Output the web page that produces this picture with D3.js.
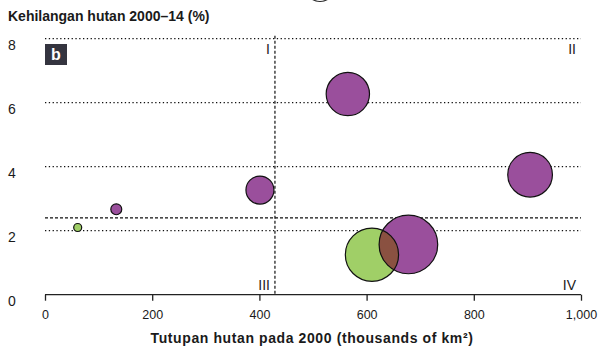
<!DOCTYPE html>
<html>
<head>
<meta charset="utf-8">
<script src="https://cdn.jsdelivr.net/npm/d3@7"></script>
<style>
  body { margin: 0; background: #fff; }
  text { font-family: "Liberation Sans", Arial, sans-serif; fill: #1a1a1a; }
</style>
</head>
<body>
<svg id="chart" width="599" height="350"></svg>
<script>
// tutupan hutan 2000 (thousands of km2), kehilangan 2000-14 (%), bubble size, group
const cover = [61, 133, 401, 565, 905, 610, 678];
const loss = [2.1, 2.67, 3.27, 6.27, 3.75, 1.25, 1.57];
const sizes = [1.6, 3.0, 19.6, 47, 50, 71, 86];
const groups = ["g", "p", "p", "p", "p", "g", "p"];

const xTicks = [0, 200, 400, 600, 800, 1000];
const yTicks = [0, 2, 4, 6, 8];
const gridY = [2, 4, 6, 8];
const meanCover = 429;
const meanLoss = 2.4;
const quadrants = ["I", "II", "III", "IV"];

const svg = d3.select("#chart");

const x = d3.scaleLinear().domain([0, 1000]).range([45, 581]);
const y = d3.scaleLinear().domain([0, 8]).range([294.7, 38.7]);
const r = d3.scaleSqrt().domain([0, 100]).range([0, 31.6]);
const colors = { g: "#a0cf67", p: "#9a4f9c" };

// cut-off bubble of the panel above
svg.append("circle")
    .attr("cx", 320).attr("cy", -13).attr("r", 14.5)
    .attr("fill", "none").attr("stroke", "#222").attr("stroke-width", 1.2);

svg.append("text")
    .attr("x", 8).attr("y", 21)
    .attr("font-size", "14px")
    .attr("font-weight", "bold")
    .text("Kehilangan hutan 2000–14 (%)");

// grid
svg.selectAll(".grid")
    .data(gridY)
    .enter().append("line")
        .attr("x1", x(0)).attr("x2", x(1000))
        .attr("y1", d => y(d)).attr("y2", d => y(d))
        .attr("stroke", "#111").attr("stroke-width", 1.2)
        .attr("stroke-dasharray", "1.3,2.5");

svg.append("line")
    .attr("x1", x(0)).attr("x2", x(1000))
    .attr("y1", y(meanLoss)).attr("y2", y(meanLoss))
    .attr("stroke", "#111").attr("stroke-width", 1.2)
    .attr("stroke-dasharray", "3,2");

svg.append("line")
    .attr("x1", x(meanCover)).attr("x2", x(meanCover))
    .attr("y1", y(8) - 3).attr("y2", y(0))
    .attr("stroke", "#111").attr("stroke-width", 1.2)
    .attr("stroke-dasharray", "3,2");

// y labels
svg.selectAll(".ylab")
    .data(yTicks)
    .enter().append("text")
        .attr("x", 12)
        .attr("y", d => y(d) + 11)
        .attr("text-anchor", "middle")
        .attr("font-size", "14px")
        .text(d => d);

// x axis
const xAxis = svg.append("g")
    .attr("transform", `translate(0,${y(0)})`)
    .call(d3.axisBottom(x).tickValues(xTicks).tickSize(6).tickSizeOuter(0)
        .tickFormat(d3.format(",")));
xAxis.select(".domain").attr("stroke", "#222").attr("stroke-width", 1.3).attr("d", `M${x(0)},0H${x(1000)}`);
xAxis.selectAll(".tick line").attr("stroke", "#222").attr("stroke-width", 1.3);
xAxis.selectAll(".tick text")
    .attr("y", 15)
    .attr("font-size", "12.5px")
    .attr("font-family", "'Liberation Sans', Arial, sans-serif")
    .attr("fill", "#1a1a1a");

svg.append("text")
    .attr("x", 312).attr("y", 343)
    .attr("text-anchor", "middle")
    .attr("font-size", "14px")
    .attr("font-weight", "bold")
    .attr("letter-spacing", "0.6px")
    .text("Tutupan hutan pada 2000 (thousands of km²)");

// panel label
svg.append("rect")
    .attr("x", 45).attr("y", 44).attr("width", 22).attr("height", 21)
    .attr("fill", "#34343f");
svg.append("text")
    .attr("x", 56).attr("y", 60)
    .attr("text-anchor", "middle")
    .attr("font-size", "16px")
    .attr("font-weight", "bold")
    .style("fill", "#fff")
    .text("b");

// quadrant labels
const qPos = [[x(meanCover) - 5, y(8) + 15], [x(1000) - 5, y(8) + 15], [x(meanCover) - 5, y(0) - 5], [x(1000) - 5, y(0) - 5]];
svg.selectAll(".quad")
    .data(quadrants)
    .enter().append("text")
        .attr("x", (d, i) => qPos[i][0])
        .attr("y", (d, i) => qPos[i][1])
        .attr("text-anchor", "end")
        .attr("font-size", "14px")
        .text(d => d);

// bubbles
const pts = cover.map((c, i) => ({ cx: x(c), cy: y(loss[i]), r: r(sizes[i]), g: groups[i], i: i }));

const defs = svg.append("defs");
svg.selectAll(".bubble")
    .data(pts)
    .enter().append("circle")
        .attr("cx", d => d.cx).attr("cy", d => d.cy).attr("r", d => d.r)
        .attr("fill", d => colors[d.g]);

// overlap of the two large bubbles
defs.append("clipPath").attr("id", "clipP")
    .append("circle").attr("cx", pts[6].cx).attr("cy", pts[6].cy).attr("r", pts[6].r);
svg.append("circle")
    .attr("cx", pts[5].cx).attr("cy", pts[5].cy).attr("r", pts[5].r)
    .attr("clip-path", "url(#clipP)")
    .attr("fill", "#8a5141");

svg.selectAll(".outline")
    .data(pts)
    .enter().append("circle")
        .attr("cx", d => d.cx).attr("cy", d => d.cy).attr("r", d => d.r)
        .attr("fill", "none")
        .attr("stroke", "#111").attr("stroke-width", 1.2);
</script>
</body>
</html>
